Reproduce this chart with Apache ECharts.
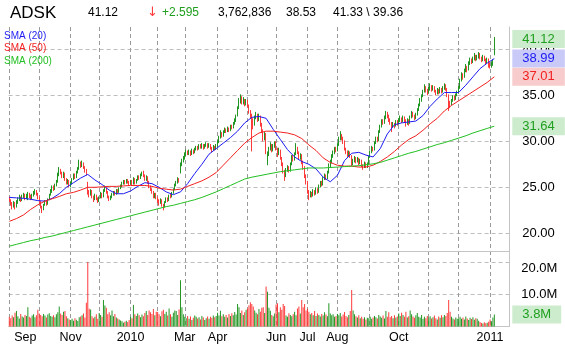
<!DOCTYPE html>
<html>
<head>
<meta charset="utf-8">
<script src="https://cdn.jsdelivr.net/npm/echarts/dist/echarts.min.js"></script>
<style>
  html, body { margin: 0; padding: 0; background: #fff; }
  #chart { width: 565px; height: 352px; }
</style>
</head>
<body>
<div id="chart"></div>
<script>
// ADSK daily, Sep 2009 - Jan 2011
const ticker = 'ADSK';
const quote = ['41.12', '\u2193', '+2.595', '3,762,836', '38.53', '41.33 \\ 39.36'];

const holidays = ['2009-09-07', '2009-11-26', '2009-12-25', '2010-01-01', '2010-01-18', '2010-02-15',
  '2010-04-02', '2010-05-31', '2010-07-05', '2010-09-06', '2010-11-25', '2010-12-24', '2011-01-17'];

// [open, close, low, high]
const ohlc = [
  // Sep 2009
  [23.9,23.6,23.4,24.0],[23.6,23.2,23.0,23.7],[23.2,22.9,22.6,23.4],[22.9,23.3,22.8,23.5],[23.3,22.8,22.6,23.4],
  [22.9,23.4,22.8,23.6],[23.4,23.7,23.2,23.9],[23.7,23.9,23.5,24.2],[23.9,23.6,23.4,24.0],[23.6,24.0,23.5,24.2],
  [24.0,24.2,23.8,24.4],[24.2,23.8,23.6,24.3],[23.8,24.1,23.7,24.3],[23.8,24.3,23.6,24.5],[24.3,24.0,23.8,24.4],
  [24.0,23.8,23.6,24.2],[23.8,24.1,23.7,24.3],[24.1,24.4,24.0,24.6],[24.4,24.6,24.2,24.8],[24.6,24.3,24.1,24.7],
  [24.3,23.9,23.7,24.4],
  // Oct 2009
  [23.9,23.4,23.2,24.0],[23.4,22.9,22.7,23.5],[22.9,22.6,22.2,23.0],[22.6,23.1,22.5,23.2],[23.1,23.4,23.0,23.6],
  [23.4,23.2,23.0,23.6],[23.2,23.7,23.1,23.8],[23.7,24.2,23.6,24.3],[24.2,24.6,24.1,24.8],[24.6,25.0,24.4,25.2],
  [25.0,24.8,24.6,25.2],[24.8,25.3,24.7,25.4],[25.3,25.6,25.1,25.8],[25.6,26.4,25.5,26.6],[26.4,26.9,26.2,27.2],
  [26.9,26.6,26.4,27.0],[26.6,26.2,26.0,26.7],[26.2,26.5,26.0,26.7],[26.5,25.9,25.7,26.6],[25.9,25.5,25.3,26.0],
  [25.5,25.7,25.3,25.9],[25.7,25.2,25.0,25.8],
  // Nov 2009
  [25.2,25.4,25.0,25.6],[25.4,25.9,25.3,26.0],[25.9,26.3,25.8,26.5],[26.3,26.1,25.9,26.5],[26.1,26.6,26.0,26.8],
  [26.6,27.0,26.5,27.2],[27.0,27.6,26.9,28.0],[27.6,27.3,27.1,27.8],[27.3,27.6,27.2,27.9],[27.6,27.2,27.0,27.7],
  [27.2,26.8,26.6,27.3],[26.8,26.5,26.3,27.0],[25.3,24.5,24.2,25.6],[24.5,24.2,23.9,24.7],[24.2,24.6,24.1,24.8],
  [24.6,24.0,23.8,24.7],[24.0,23.7,23.4,24.1],[23.7,24.1,23.6,24.3],[24.1,23.8,23.6,24.2],[23.8,23.6,23.3,23.9],
  // Dec 2009
  [23.6,23.9,23.4,24.0],[23.9,24.3,23.8,24.5],[24.3,24.0,23.8,24.4],[24.0,24.6,23.9,24.8],[24.6,24.9,24.5,25.2],
  [24.9,24.5,24.3,25.0],[24.5,24.0,23.8,24.6],[24.0,23.7,23.5,24.1],[23.7,23.9,23.6,24.1],[23.9,24.2,23.8,24.4],
  [24.2,24.5,24.1,24.6],[24.5,24.3,24.1,24.6],[24.3,24.7,24.2,24.8],[24.7,24.5,24.3,24.8],[24.5,24.9,24.4,25.0],
  [24.9,25.1,24.8,25.3],[25.1,25.4,25.0,25.6],[25.4,25.7,25.3,25.8],[25.7,25.5,25.3,25.8],[25.5,25.8,25.4,25.9],
  [25.8,25.6,25.4,25.9],[25.6,25.4,25.2,25.7],
  // Jan 2010
  [25.4,25.6,25.3,25.8],[25.6,25.4,25.2,25.8],[25.4,25.9,25.3,26.1],[25.9,25.5,25.3,26.0],[25.5,25.8,25.4,25.9],
  [25.8,26.2,25.7,26.3],[26.2,26.0,25.8,26.3],[26.0,26.4,25.9,26.5],[26.4,26.5,26.2,26.7],[26.5,26.3,26.1,26.8],
  [26.3,25.9,25.7,26.4],[25.9,26.1,25.7,26.3],[26.1,25.6,25.4,26.2],[25.6,25.1,24.9,25.7],[25.1,24.8,24.6,25.2],
  [24.8,24.5,24.3,24.9],[24.5,24.0,23.8,24.6],[24.0,24.3,23.8,24.4],[24.3,23.9,23.7,24.4],
  // Feb 2010
  [23.9,23.6,23.3,24.0],[23.6,23.3,23.0,23.7],[23.3,23.6,23.2,23.8],[23.6,23.1,22.9,23.7],[23.1,22.9,22.5,23.2],
  [22.9,23.4,22.8,23.5],[23.4,23.8,23.3,23.9],[23.8,23.6,23.4,23.9],[23.6,24.1,23.5,24.2],[24.1,24.0,23.8,24.3],
  [24.0,24.4,23.9,24.5],[24.4,24.8,24.3,24.9],[24.8,25.3,24.7,25.4],[25.3,25.5,25.1,25.7],[25.5,25.9,25.4,26.1],
  [25.9,25.7,25.5,26.0],[26.6,27.5,26.5,27.7],[27.5,27.9,27.3,28.1],[27.9,28.2,27.7,28.4],
  // Mar 2010
  [28.2,28.6,28.0,28.8],[28.6,28.9,28.4,29.1],[28.9,28.7,28.5,29.0],[28.7,28.9,28.5,29.1],[28.9,28.6,28.4,29.0],
  [28.6,29.0,28.5,29.2],[29.0,28.8,28.6,29.1],[28.8,29.1,28.7,29.3],[29.1,29.3,29.0,29.5],[29.3,29.2,29.0,29.5],
  [29.2,29.5,29.1,29.7],[29.5,29.4,29.2,29.7],[29.4,29.6,29.2,29.8],[29.6,29.3,29.1,29.7],[29.3,29.5,29.2,29.7],
  [29.5,29.7,29.4,29.9],[29.7,29.4,29.2,29.8],[29.4,29.6,29.3,29.8],[29.6,29.3,29.1,29.7],[29.3,29.1,28.8,29.4],
  [29.1,29.4,29.0,29.6],[29.4,29.2,29.0,29.5],[29.2,29.5,29.1,29.7],
  // Apr 2010
  [29.5,29.9,29.4,30.1],[29.9,30.4,29.8,30.6],[30.4,30.9,30.3,31.2],[30.9,30.6,30.4,31.0],[30.6,31.0,30.5,31.2],
  [31.0,31.3,30.9,31.5],[31.3,31.1,30.9,31.4],[31.1,31.4,31.0,31.6],[31.4,31.2,31.0,31.5],[31.2,31.6,31.1,31.8],
  [31.6,31.5,31.3,31.8],[31.5,31.9,31.4,32.1],[31.9,32.3,31.8,32.5],[32.3,32.6,32.1,32.9],[32.8,33.6,32.7,33.8],
  [33.6,34.4,33.5,34.7],[34.4,34.8,34.1,35.1],[34.8,34.3,34.0,34.9],[34.3,34.5,34.0,34.8],[34.5,34.0,33.8,34.6],
  [34.0,34.4,33.9,34.6],
  // May 2010
  [34.4,33.9,33.7,34.5],[33.9,33.3,33.0,34.0],[33.3,32.8,32.5,33.4],[32.8,32.2,28.9,33.0],[32.2,31.8,31.3,32.5],
  [31.8,32.6,31.7,32.8],[32.6,32.9,32.4,33.2],[32.9,32.4,32.1,33.0],[32.4,32.7,32.2,33.0],[32.7,31.9,31.6,32.8],
  [31.9,31.2,30.9,32.0],[31.2,30.4,30.0,31.3],[30.4,30.8,30.1,31.0],[30.8,28.9,28.6,30.9],[28.0,28.6,27.4,28.9],
  [28.6,29.2,28.4,29.4],[29.2,29.6,29.0,29.9],[29.6,29.0,28.8,29.7],[29.0,29.5,28.9,29.7],[29.5,29.8,29.3,30.0],
  // Jun 2010
  [29.8,29.2,29.0,30.0],[29.2,28.6,28.3,29.3],[28.6,29.0,28.5,29.3],[29.0,28.2,28.0,29.1],[28.2,27.6,27.3,28.3],
  [27.6,26.8,26.5,27.7],[26.8,26.2,25.7,26.9],[26.2,26.9,26.1,27.1],[26.9,27.2,26.7,27.4],[27.2,26.8,26.6,27.3],
  [26.8,27.5,26.7,27.7],[27.5,28.3,27.4,28.5],[28.3,28.0,27.8,28.5],[28.0,28.6,27.9,28.8],[28.6,29.3,28.5,29.8],
  [29.3,28.8,28.6,29.4],[28.8,28.2,28.0,28.9],[28.2,28.5,28.0,28.7],[28.5,27.8,27.5,28.6],[27.8,27.2,26.9,27.9],
  [27.2,26.3,26.0,27.3],[26.3,25.6,25.3,26.4],
  // Jul 2010
  [25.6,24.6,24.3,25.7],[24.6,24.0,23.6,24.7],[24.0,24.4,23.9,24.6],[24.4,24.1,23.9,24.5],[24.1,24.6,24.0,24.8],
  [24.6,24.3,24.1,24.7],[24.3,24.8,24.2,25.0],[24.8,24.5,24.3,24.9],[24.5,25.1,24.4,25.3],[25.1,25.5,25.0,25.7],
  [25.5,25.3,25.1,25.7],[25.3,25.9,25.2,26.1],[25.9,26.3,25.8,26.5],[26.3,26.0,25.8,26.4],[26.0,26.6,25.9,26.8],
  [26.6,27.3,26.5,27.6],[27.3,27.7,27.1,28.0],[27.7,28.4,27.6,28.6],[28.4,28.8,28.2,29.0],[28.8,29.2,28.6,29.4],
  [29.2,29.0,28.8,29.4],
  // Aug 2010
  [29.0,29.6,28.9,29.8],[29.6,30.3,29.5,30.5],[30.3,30.7,30.1,31.1],[30.7,30.4,30.1,30.8],[30.4,30.0,29.7,30.5],
  [30.0,29.2,29.0,30.1],[29.2,28.9,28.6,29.3],[28.9,28.5,28.3,29.0],[28.5,28.8,28.4,29.0],[28.8,28.4,28.2,28.9],
  [28.4,27.6,27.3,28.5],[27.6,27.9,27.4,28.1],[27.9,28.2,27.7,28.4],[28.2,27.8,27.6,28.3],[27.8,28.1,27.7,28.3],
  [28.1,27.6,27.4,28.2],[27.6,27.9,27.5,28.1],[27.9,27.4,27.2,28.0],[27.4,27.2,26.9,27.5],[27.2,27.6,27.1,27.8],
  [27.6,27.3,27.1,27.7],[27.3,27.5,27.1,27.7],
  // Sep 2010
  [27.5,28.3,27.4,28.4],[28.3,28.9,28.2,29.0],[28.9,29.3,28.7,29.5],[29.3,29.1,28.9,29.4],[29.1,29.8,29.0,30.0],
  [29.8,30.3,29.7,30.5],[30.3,30.1,29.9,30.5],[30.1,31.0,30.0,31.2],[31.0,31.6,30.9,31.8],[31.6,32.2,31.5,32.4],
  [32.2,32.0,31.8,32.4],[32.0,32.6,31.9,32.8],[32.6,33.0,32.4,33.3],[33.0,32.7,32.5,33.2],[32.7,32.4,32.1,32.9],
  [32.4,32.0,31.8,32.5],[32.0,31.6,31.0,32.1],[31.6,31.9,31.5,32.1],[31.9,31.7,31.4,32.0],[31.7,32.1,31.6,32.3],
  [32.1,31.9,31.7,32.3],
  // Oct 2010
  [31.9,32.3,31.8,32.5],[32.3,32.5,32.1,32.8],[32.5,32.2,32.0,32.6],[32.2,32.6,32.1,32.8],[32.6,32.3,32.1,32.7],
  [32.3,31.9,31.6,32.4],[31.9,32.3,31.8,32.5],[32.3,32.0,31.7,32.4],[32.0,32.6,31.9,32.8],[32.6,33.1,32.5,33.3],
  [33.1,32.8,32.6,33.2],[32.8,32.5,32.3,32.9],[32.5,32.9,32.4,33.1],[32.9,33.4,32.8,33.6],[33.4,33.9,33.3,34.1],
  [33.9,34.5,33.8,34.7],[34.5,34.9,34.3,35.1],[34.9,35.4,34.8,35.6],[35.4,35.9,35.3,36.2],[35.9,35.6,35.3,36.0],
  [35.6,35.3,35.0,35.7],
  // Nov 2010
  [35.3,35.7,35.2,35.9],[35.7,36.0,35.5,36.3],[36.0,35.6,35.4,36.1],[35.6,35.9,35.5,36.1],[35.9,35.5,35.3,36.0],
  [35.5,35.2,35.0,35.6],[35.2,35.6,35.1,35.8],[35.6,35.3,35.1,35.7],[35.3,35.7,35.2,35.9],[35.7,35.4,35.2,35.8],
  [35.4,35.8,35.3,36.0],[35.8,36.1,35.6,36.3],[36.1,35.7,35.5,36.2],[35.7,35.0,34.8,35.8],[35.0,34.2,33.3,35.1],
  [34.2,34.0,33.6,34.4],[34.0,34.4,33.9,34.6],[34.4,34.8,34.3,35.0],[34.8,34.6,34.4,35.0],[34.6,35.0,34.5,35.2],
  [35.0,35.3,34.9,35.5],
  // Dec 2010
  [35.3,35.8,35.2,36.0],[35.8,36.6,35.7,36.8],[36.6,37.2,36.5,37.5],[37.2,37.0,36.7,37.4],[37.0,37.7,36.9,37.9],
  [37.7,38.1,37.5,38.4],[38.1,37.8,37.5,38.2],[37.8,38.5,37.7,38.7],[38.5,38.9,38.3,39.1],[38.9,38.6,38.4,39.0],
  [38.6,39.0,38.5,39.2],[39.0,39.3,38.8,39.6],[39.3,38.9,38.7,39.4],[38.9,39.2,38.8,39.4],[39.2,39.5,39.0,39.7],
  [39.5,39.1,38.9,39.6],[39.1,38.8,38.6,39.2],[38.8,39.2,38.7,39.4],[39.2,38.9,38.7,39.3],[38.9,38.6,38.3,39.0],
  [38.6,38.9,38.5,39.1],[38.9,38.2,38.0,39.0],
  // Jan 2011
  [38.2,38.1,37.9,38.6],[38.1,38.4,38.0,38.7],[38.3,38.53,38.2,38.9],[39.4,41.12,39.36,41.33]
];

// volume, millions of shares
const volume = [
  3.0,2.6,3.4,2.9,4.3,4.8,3.2,2.5,3.9,3.1,2.8,3.6,3.3,6.0,3.0,2.7,3.4,3.8,2.9,3.5,5.2,
  4.0,3.6,3.2,3.9,3.4,2.8,3.7,4.1,3.3,3.0,3.5,2.9,3.8,4.4,6.2,4.0,3.6,4.6,4.8,3.2,2.6,2.2,
  2.0,2.4,1.8,2.6,2.1,1.7,2.9,3.1,3.5,4.0,2.8,7.4,20.0,5.5,5.3,3.2,2.6,3.0,3.8,2.4,
  4.2,3.6,3.0,8.2,6.5,5.8,3.8,4.4,3.5,5.0,3.2,3.9,2.8,2.5,2.2,1.9,1.6,1.2,1.5,1.8,1.4,2.0,
  3.0,2.6,6.7,3.8,3.3,4.0,3.5,2.9,3.7,3.2,4.2,4.8,3.6,5.0,4.4,3.9,5.4,3.5,4.6,
  4.5,3.8,3.2,4.7,5.2,3.9,4.6,3.4,5.6,3.8,3.0,4.3,5.0,4.8,3.6,5.3,14.4,6.0,3.8,
  3.0,2.6,3.3,2.4,3.1,2.0,2.7,3.4,3.0,2.5,2.9,2.2,3.3,2.8,2.0,2.6,3.1,2.4,3.0,2.7,3.4,2.9,3.3,
  4.3,3.4,4.9,3.2,3.8,3.0,3.6,2.8,3.9,3.3,4.1,3.5,4.5,3.7,7.0,6.0,4.2,5.0,3.6,4.4,5.2,
  5.6,6.6,7.5,7.0,6.2,5.0,4.3,3.8,5.4,4.6,5.8,6.0,4.2,12.4,10.8,5.8,4.9,3.6,3.2,4.0,
  6.8,7.2,4.4,6.0,5.2,7.0,6.4,3.4,3.0,4.1,3.6,3.2,3.8,4.6,3.5,5.6,6.2,4.0,8.2,6.0,7.0,5.0,
  5.5,4.6,3.8,4.2,3.5,4.8,3.3,4.0,3.6,3.1,3.9,3.4,4.4,3.7,3.2,7.2,4.0,3.5,3.8,3.0,3.3,
  3.9,3.5,4.2,3.1,3.7,4.5,3.3,2.9,3.6,4.8,11.3,5.0,3.8,3.2,2.8,3.5,2.6,3.0,2.4,2.9,2.2,2.7,
  2.6,3.0,2.4,2.8,3.3,2.9,2.5,3.6,3.1,2.7,3.4,2.5,4.8,3.0,4.4,2.9,3.3,2.6,3.5,2.8,3.1,
  4.0,3.3,4.3,3.6,3.0,4.6,2.8,3.2,5.0,3.8,3.1,2.7,3.5,4.2,3.0,2.8,3.6,2.4,3.0,2.6,3.3,
  2.8,3.2,2.5,2.9,3.4,2.6,2.2,3.1,2.7,3.5,2.9,3.6,3.3,4.2,8.2,4.6,3.0,2.5,2.2,2.8,2.4,
  2.6,3.0,2.4,2.8,2.2,3.1,2.5,2.0,2.7,2.3,2.9,2.1,2.6,2.4,1.8,1.4,1.1,0.9,1.3,1.0,1.2,1.5,
  2.2,1.6,2.8,3.76
];

// moving averages, one reading every 5 trading days
const smaStep = 5;
const sma20 = [23.9,23.85,23.8,23.7,23.55,23.5,23.8,24.3,25.0,25.5,26.0,26.4,25.8,25.3,24.7,24.3,24.3,24.6,25.1,25.5,
  25.4,25.0,24.5,24.2,24.5,25.4,26.5,27.5,28.6,29.2,29.8,30.4,31.1,32.0,32.6,32.7,32.5,31.3,30.2,29.1,
  28.3,27.8,27.5,27.0,26.1,25.6,26.3,27.9,28.7,28.8,28.5,28.3,29.2,30.8,31.8,32.0,32.1,32.2,32.8,33.8,
  34.6,35.3,35.3,35.3,36.1,37.0,37.9,38.5,38.99];
const sma50 = [21.3,21.6,22.0,22.6,23.1,23.5,23.75,24.0,24.3,24.45,24.7,25.0,25.0,25.05,25.1,25.1,25.15,25.2,25.2,25.2,
  25.1,24.9,24.8,24.7,24.8,25.1,25.4,25.7,26.1,26.6,27.4,28.2,29.0,29.8,30.4,30.9,31.1,31.1,31.0,30.9,
  30.7,30.3,29.6,29.0,28.2,27.7,27.4,27.3,27.3,27.2,27.2,27.4,27.8,28.3,28.9,29.6,30.2,30.6,31.2,31.9,
  32.5,33.3,33.9,34.4,34.9,35.4,35.9,36.4,37.01];
const sma200 = [18.6,18.8,19.0,19.2,19.35,19.55,19.7,19.9,20.1,20.3,20.5,20.7,20.9,21.1,21.3,21.5,21.7,21.9,22.1,22.3,
  22.5,22.7,22.9,23.05,23.25,23.45,23.65,23.9,24.2,24.5,24.85,25.2,25.55,25.9,26.1,26.25,26.4,26.55,26.7,26.8,
  26.9,27.0,27.1,27.1,27.1,27.15,27.2,27.25,27.3,27.35,27.45,27.55,27.7,27.95,28.2,28.45,28.7,28.9,29.15,29.4,
  29.65,29.85,30.1,30.35,30.6,30.9,31.15,31.4,31.64];

const labelMonths = ['2009-09', '2009-11', '2010-01', '2010-03', '2010-04', '2010-06', '2010-07', '2010-08', '2010-10', '2011-01'];
const MON = ['Jan', 'Feb', 'Mar', 'Apr', 'May', 'Jun', 'Jul', 'Aug', 'Sep', 'Oct', 'Nov', 'Dec'];

function tradingDays(from, to) {
  const out = [];
  const d = new Date(from + 'T00:00:00Z');
  const end = new Date(to + 'T00:00:00Z');
  while (d <= end) {
    const wd = d.getUTCDay();
    const s = d.toISOString().slice(0, 10);
    if (wd !== 0 && wd !== 6 && holidays.indexOf(s) < 0) out.push(s);
    d.setUTCDate(d.getUTCDate() + 1);
  }
  return out;
}
// a few empty sessions after the last bar leave the gap on the right
const dates = tradingDays('2009-09-01', '2011-01-21');

const monthStart = new Set();
dates.forEach((d, i) => {
  if (i === 0 || d.slice(0, 7) !== dates[i - 1].slice(0, 7)) monthStart.add(i);
});

const FONT = '"Liberation Sans", Arial, sans-serif';
const UP = '#229622', DOWN = '#ff3a3a';
const C20 = '#1c1cf2', C50 = '#f22020', C200 = '#22c022';
const last = ohlc.length - 1;

function smaPts(arr) {
  return arr.map((v, k) => [dates[k * smaStep], v]);
}

function tag(value, text, color, bg) {
  return {
    silent: true,
    symbol: ['none', 'none'],
    lineStyle: { color: 'transparent', width: 0 },
    label: {
      position: 'end', distance: 3, formatter: text, color: color,
      backgroundColor: bg, padding: [3, 10, 2, 10],
      fontSize: 13, lineHeight: 13, fontFamily: FONT
    },
    emphasis: { disabled: true },
    data: [{ yAxis: value }]
  };
}

const splitX = {
  show: true,
  alignWithLabel: true,
  interval: (i) => monthStart.has(i),
  lineStyle: { color: '#9a9a9a', type: [4, 3], width: 1 }
};

function headText(x, text, fill, font) {
  return { type: 'text', x: x, y: 13, style: { text: text, fill: fill, font: font, verticalAlign: 'middle', textVerticalAlign: 'middle' } };
}

const chart = echarts.init(document.getElementById('chart'));
chart.setOption({
  animation: false,
  backgroundColor: '#fff',
  textStyle: { fontFamily: FONT },
  legend: {
    orient: 'vertical', left: -1, top: 31, padding: 0,
    icon: 'none', itemWidth: 0, itemHeight: 10, itemGap: 2.7,
    selectedMode: false,
    textStyle: { fontSize: 10, lineHeight: 10, fontFamily: FONT },
    data: [
      { name: 'SMA (20)', textStyle: { color: C20 } },
      { name: 'SMA (50)', textStyle: { color: C50 } },
      { name: 'SMA (200)', textStyle: { color: C200 } }
    ]
  },
  graphic: [
    headText(10, ticker, '#000', '17px ' + FONT),
    headText(88, quote[0], '#000', '12px ' + FONT),
    headText(147, quote[1], '#ff3a3a', '13px "DejaVu Sans", sans-serif'),
    headText(162, quote[2], '#1f9f1f', '12px ' + FONT),
    headText(218, quote[3], '#000', '12px ' + FONT),
    headText(286, quote[4], '#000', '12px ' + FONT),
    headText(333, quote[5], '#000', '12px ' + FONT)
  ],
  grid: [
    { left: 8.6, right: 55.7, top: 27, bottom: 101 },
    { left: 8.6, right: 55.7, top: 251, bottom: 25.5 }
  ],
  xAxis: [
    {
      type: 'category', gridIndex: 0, data: dates, boundaryGap: true,
      axisLine: { lineStyle: { color: '#c4c4c4' } },
      axisTick: { show: false, alignWithLabel: true },
      axisLabel: { show: false },
      splitLine: splitX
    },
    {
      type: 'category', gridIndex: 1, data: dates, boundaryGap: true,
      axisLine: { lineStyle: { color: '#c4c4c4' } },
      axisTick: { show: false, alignWithLabel: true },
      axisLabel: {
        interval: (i, v) => monthStart.has(i) && labelMonths.indexOf(v.slice(0, 7)) >= 0,
        formatter: (v, i) => {
          const m = +v.slice(5, 7);
          const t = m === 1 ? v.slice(0, 4) : MON[m - 1];
          return i === 0 ? '{s|' + t + '}' : t;
        },
        rich: { s: { padding: [0, 0, 0, 32], fontSize: 12.5, color: '#000', fontFamily: FONT } },
        color: '#000', fontSize: 12.5, margin: 5, fontFamily: FONT
      },
      splitLine: splitX
    }
  ],
  yAxis: [
    {
      type: 'value', gridIndex: 0, position: 'right',
      min: 18.076, max: 42.424,
      axisLine: { show: true, lineStyle: { color: '#c4c4c4' } },
      axisTick: { show: false },
      axisLabel: {
        margin: 13, fontSize: 13, color: '#000', fontFamily: FONT,
        showMinLabel: false, showMaxLabel: false,
        formatter: (v) => v.toFixed(2)
      },
      splitLine: { showMinLine: false, showMaxLine: false, lineStyle: { color: '#bdbdbd', type: [4, 3] } }
    },
    {
      type: 'value', gridIndex: 1, position: 'right',
      min: 0, max: 23.45, splitNumber: 2,
      axisLine: { show: true, lineStyle: { color: '#c4c4c4' } },
      axisTick: { show: false },
      axisLabel: {
        margin: 12, fontSize: 13, color: '#000', fontFamily: FONT,
        showMinLabel: false, showMaxLabel: false,
        formatter: (v) => (v >= 20 ? '{t|' + v.toFixed(1) + 'M}' : v.toFixed(1) + 'M'),
        rich: { t: { padding: [13, 0, 0, 0], fontSize: 13, color: '#000', fontFamily: FONT } }
      },
      splitLine: { showMinLine: false, showMaxLine: false, lineStyle: { color: '#bdbdbd', type: [4, 3] } }
    }
  ],
  series: [
    {
      name: ticker, type: 'candlestick', xAxisIndex: 0, yAxisIndex: 0,
      data: ohlc, barWidth: 0.4,
      itemStyle: { color: UP, color0: DOWN, borderColor: UP, borderColor0: DOWN, borderWidth: 1 },
      markLine: tag(ohlc[last][1], ohlc[last][1].toFixed(2), '#1f9f1f', '#cdeccd')
    },
    {
      name: 'SMA (20)', type: 'line', xAxisIndex: 0, yAxisIndex: 0,
      data: smaPts(sma20), showSymbol: false, lineStyle: { color: C20, width: 1 }, itemStyle: { color: C20 },
      markLine: tag(sma20[sma20.length - 1], sma20[sma20.length - 1].toFixed(2), C20, '#cacaf8')
    },
    {
      name: 'SMA (50)', type: 'line', xAxisIndex: 0, yAxisIndex: 0,
      data: smaPts(sma50), showSymbol: false, lineStyle: { color: C50, width: 1 }, itemStyle: { color: C50 },
      markLine: tag(sma50[sma50.length - 1], sma50[sma50.length - 1].toFixed(2), C50, '#f8cccc')
    },
    {
      name: 'SMA (200)', type: 'line', xAxisIndex: 0, yAxisIndex: 0,
      data: smaPts(sma200), showSymbol: false, lineStyle: { color: C200, width: 1 }, itemStyle: { color: C200 },
      markLine: tag(sma200[sma200.length - 1], sma200[sma200.length - 1].toFixed(2), '#1f9f1f', '#cdeccd')
    },
    {
      name: 'Volume', type: 'bar', xAxisIndex: 1, yAxisIndex: 1, barWidth: 1,
      data: volume.map((v, i) => ({ value: v, itemStyle: { color: ohlc[i][1] >= ohlc[i][0] ? UP : DOWN } })),
      markLine: tag(volume[last], volume[last].toFixed(1) + 'M', '#1f9f1f', '#cdeccd')
    }
  ]
});
</script>
</body>
</html>
